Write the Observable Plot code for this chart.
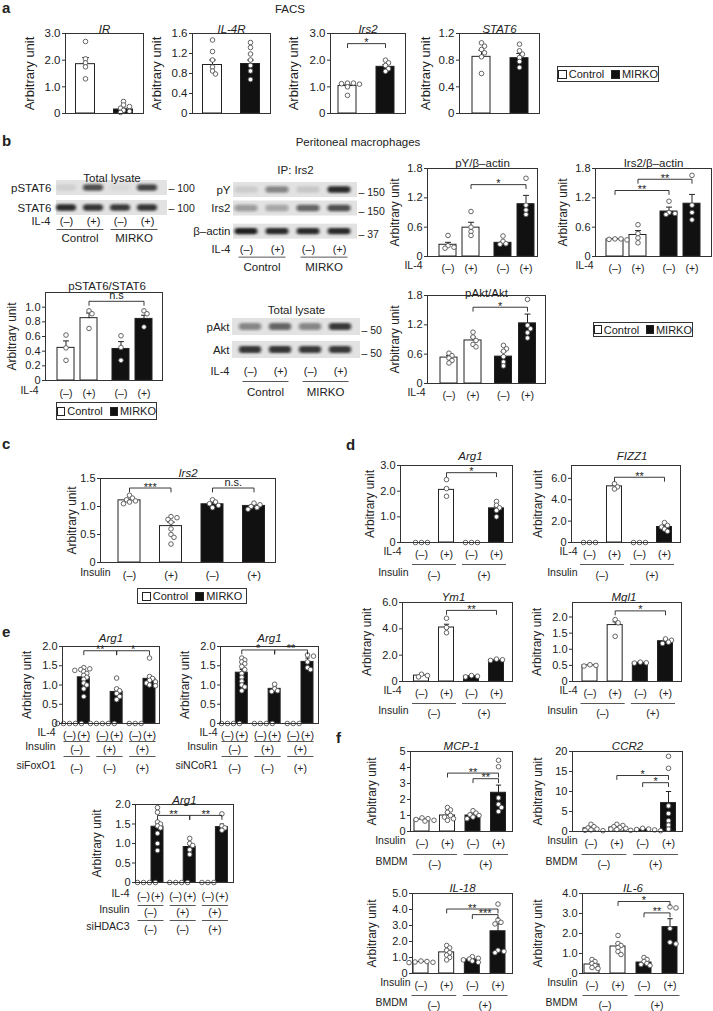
<!DOCTYPE html>
<html><head><meta charset="utf-8">
<script src="https://cdn.jsdelivr.net/npm/d3@7"></script>
<script src="https://cdn.jsdelivr.net/npm/@observablehq/plot@0.6"></script>
<style>
html,body{margin:0;padding:0;background:#fff}
#fig{position:relative;width:713px;height:1011px;overflow:hidden;font-family:"Liberation Sans",Arial,sans-serif;color:#222}
.t{position:absolute;white-space:nowrap;line-height:1}
.leg{position:absolute;border:1px solid #333;box-sizing:border-box;display:flex;align-items:center;justify-content:center;font-size:11px;white-space:nowrap;background:#fff}
.sw{display:inline-block;width:9px;height:9px;border:1px solid #222;box-sizing:border-box;margin-right:2px}
</style></head><body><div id="fig"></div>
<script>
// ================= DATA =================
const genotypes = ["Control", "MIRKO"];
const il4 = ["(–)", "(+)", "(–)", "(+)"];
const il4x3 = ["(–)", "(+)", "(–)", "(+)", "(–)", "(+)"];
const ins = ["(–)", "(+)", "(–)", "(+)"];
const pm = ["(–)", "(+)"];

// a: FACS
const a_IR_mean = [1.85, 0.15], a_IR_err = [2.1, 0.2];
const a_IR_pts = [[2.7, 2.05, 1.9, 1.75, 1.3], [0.45, 0.32, 0.26, 0.2, 0.12, 0.08, 0.04]];
const a_IL4R_mean = [0.97, 0.99], a_IL4R_err = [1.07, 1.07];
const a_IL4R_pts = [[1.47, 1.24, 1.07, 0.93, 0.85, 0.79], [1.42, 1.32, 1.19, 1.07, 0.96, 0.85, 0.68]];
const a_Irs2_mean = [1.03, 1.75], a_Irs2_err = [1.08, 1.83];
const a_Irs2_pts = [[1.14, 1.14, 1.12, 1.1, 1.0, 0.68], [2.0, 1.9, 1.8, 1.68, 1.58]];
const a_STAT6_mean = [0.85, 0.83], a_STAT6_err = [0.95, 0.9];
const a_STAT6_pts = [[1.06, 1.01, 0.96, 0.91, 0.85, 0.6], [1.04, 0.94, 0.89, 0.84, 0.78, 0.69]];

// b: peritoneal macrophages (blots)
const b_pSTAT6_lev = [0.08, 0.7, 0.04, 0.75];
const b_STAT6_lev = [0.9, 0.85, 0.8, 0.85];
const b_pY_lev = [0.1, 0.45, 0.12, 0.9];
const b_Irs2blot_lev = [0.35, 0.3, 0.6, 0.7];
const b_actin_lev = [0.95, 0.9, 0.9, 0.9];
const b_pAkt_lev = [0.45, 0.6, 0.45, 0.8];
const b_Akt_lev = [0.85, 0.85, 0.8, 0.8];
// b: quantification
const b_pSTAT6_mean = [0.445, 0.85, 0.43, 0.84], b_pSTAT6_err = [0.54, 0.92, 0.53, 0.89];
const b_pSTAT6_pts = [[0.62, 0.445, 0.275], [0.95, 0.91, 0.71], [0.61, 0.45, 0.275], [0.95, 0.91, 0.73]];
const b_pY_mean = [0.24, 0.59, 0.28, 1.07], b_pY_err = [0.29, 0.7, 0.31, 1.25];
const b_pY_pts = [[0.43, 0.22, 0.19, 0.17], [0.92, 0.6, 0.51, 0.43], [0.42, 0.31, 0.26, 0.25], [1.6, 1.05, 0.95, 0.86]];
const b_Irs2_mean = [0.35, 0.44, 0.92, 1.08], b_Irs2_err = [0.37, 0.53, 1.01, 1.27];
const b_Irs2_pts = [[0.36, 0.36, 0.35, 0.34], [0.65, 0.47, 0.38, 0.28], [1.13, 0.9, 0.88, 0.86], [1.66, 1.05, 0.9, 0.75]];
const b_pAkt_mean = [0.53, 0.88, 0.55, 1.23], b_pAkt_err = [0.57, 0.95, 0.65, 1.42];
const b_pAkt_pts = [[0.62, 0.57, 0.52, 0.47, 0.42], [1.05, 0.95, 0.88, 0.8, 0.75], [0.78, 0.71, 0.66, 0.55, 0.44, 0.36], [1.72, 1.19, 1.12, 1.04, 0.93]];

// c
const c_Irs2_mean = [1.11, 0.65, 1.04, 1.01], c_Irs2_err = [1.13, 0.72, 1.07, 1.03];
const c_Irs2_pts = [[1.2, 1.15, 1.12, 1.1, 1.08, 1.05], [0.82, 0.8, 0.77, 0.72, 0.6, 0.5, 0.45, 0.33], [1.12, 1.08, 1.05, 1.02, 0.98], [1.06, 1.03, 1.0, 0.98, 0.95]];

// d
const d_Arg1_mean = [0, 2.05, 0, 1.33], d_Arg1_err = [0, 2.12, 0, 1.4];
const d_Arg1_pts = [[0, 0, 0], [2.45, 2.1, 1.8], [0, 0, 0], [1.6, 1.45, 1.35, 1.25, 1.0]];
const d_FIZZ1_mean = [0, 5.25, 0, 1.45], d_FIZZ1_err = [0, 5.35, 0, 1.6];
const d_FIZZ1_pts = [[0, 0, 0], [5.5, 5.2, 5.0], [0, 0, 0], [1.86, 1.6, 1.45, 1.25, 1.05]];
const d_Ym1_mean = [0.45, 4.1, 0.4, 1.6], d_Ym1_err = [0.5, 4.35, 0.45, 1.65];
const d_Ym1_pts = [[0.55, 0.45, 0.35], [4.8, 4.1, 3.7], [0.45, 0.4, 0.35], [1.7, 1.65, 1.6]];
const d_Mgl1_mean = [0.5, 1.75, 0.58, 1.25], d_Mgl1_err = [0.52, 1.85, 0.6, 1.3];
const d_Mgl1_pts = [[0.52, 0.5, 0.48], [1.92, 1.82, 1.4], [0.6, 0.58, 0.57], [1.32, 1.28, 1.22, 1.18]];

// e
const e_FoxO1_mean = [0, 1.2, 0, 0.82, 0, 1.16], e_FoxO1_err = [0, 1.28, 0, 0.88, 0, 1.22];
const e_FoxO1_pts = [[0, 0, 0, 0, 0], [1.45, 1.42, 1.4, 1.38, 1.35, 1.3, 1.25, 1.2, 1.15, 1.05, 1.0, 0.9, 0.7], [0, 0, 0, 0, 0], [1.18, 0.9, 0.85, 0.78, 0.7, 0.62], [0, 0, 0], [1.7, 1.22, 1.17, 1.12, 1.08, 1.05, 1.0, 0.98]];
const e_NCoR1_mean = [0, 1.32, 0, 0.9, 0, 1.6], e_NCoR1_err = [0, 1.4, 0, 0.95, 0, 1.7];
const e_NCoR1_pts = [[0, 0, 0, 0], [1.7, 1.65, 1.6, 1.55, 1.48, 1.4, 1.3, 1.2, 1.1, 1.0, 0.95, 0.85], [0, 0, 0, 0], [1.02, 0.9, 0.85, 0.83], [0, 0, 0], [1.78, 1.75, 1.6, 1.45, 1.4]];
const e_HDAC3_mean = [0, 1.43, 0, 0.91, 0, 1.42], e_HDAC3_err = [0, 1.5, 0, 0.98, 0, 1.5];
const e_HDAC3_pts = [[0, 0, 0, 0], [1.92, 1.8, 1.55, 1.5, 1.45, 1.4, 1.26, 1.0, 0.82], [0, 0, 0, 0], [1.13, 1.0, 0.95, 0.84, 0.72], [0, 0, 0], [1.76, 1.45, 1.4, 1.34]];

// f
const f_MCP1_mean = [0.75, 1.0, 1.0, 2.42], f_MCP1_err = [0.8, 1.15, 1.1, 2.9];
const f_MCP1_pts = [[0.85, 0.8, 0.75, 0.7, 0.65], [1.5, 1.35, 1.2, 1.0, 0.9, 0.8, 0.7], [1.3, 1.15, 1.05, 1.0, 0.9, 0.8], [4.45, 4.05, 2.1, 1.7, 1.5, 1.25]];
const f_CCR2_mean = [0.8, 1.0, 0.5, 7.1], f_CCR2_err = [1.0, 1.2, 0.6, 10.0];
const f_CCR2_pts = [[1.8, 1.2, 0.9, 0.6, 0.4, 0.3, 0.2], [1.8, 1.5, 1.2, 1.0, 0.8, 0.6, 0.5], [0.8, 0.6, 0.5, 0.4, 0.3, 0.2], [18.8, 15.8, 6.4, 4.5, 2.7, 1.6, 0.6]];
const f_IL18_mean = [0.72, 1.32, 0.87, 2.64], f_IL18_err = [0.75, 1.45, 0.95, 3.1];
const f_IL18_pts = [[0.78, 0.75, 0.72, 0.7, 0.68], [1.75, 1.6, 1.45, 1.3, 1.15, 1.0, 0.85], [1.05, 0.95, 0.9, 0.85, 0.78, 0.7], [4.34, 3.35, 3.2, 3.1, 1.45, 1.38, 1.3]];
const f_IL6_mean = [0.45, 1.35, 0.55, 2.32], f_IL6_err = [0.55, 1.5, 0.6, 2.74];
const f_IL6_pts = [[0.7, 0.6, 0.5, 0.4, 0.3, 0.25], [1.9, 1.5, 1.4, 1.3, 1.1, 0.95], [0.8, 0.7, 0.6, 0.5, 0.45, 0.4], [3.33, 3.28, 2.25, 1.56, 1.48]];

// ================= LAYOUT / RENDER =================
const FONT = '"Liberation Sans", Arial, Helvetica, sans-serif';
const INK = "#222";
const WH = "#ffffff", BK = "#111111";
const R = 2.3;
const fig = document.getElementById("fig");
const f1 = d => d === 0 ? "0" : d.toFixed(1);
const f0 = d => String(d);
let uid = 0;

function place(el, left, top) {
  el.style.position = "absolute";
  el.style.left = left + "px";
  el.style.top = top + "px";
  fig.appendChild(el);
}
function label(text, x, y, o = {}) {
  const d = document.createElement("div");
  d.className = "t";
  d.textContent = text;
  d.style.fontSize = (o.size || 11.5) + "px";
  if (o.bold) d.style.fontWeight = "bold";
  const tx = o.anchor === "middle" ? "-50%" : o.anchor === "end" ? "-100%" : "0";
  d.style.transform = `translate(${tx},-50%)`;
  place(d, x, y);
}
function legend(x, y, w, h) {
  const d = document.createElement("div");
  d.className = "leg";
  d.style.width = w + "px"; d.style.height = h + "px";
  d.innerHTML = `<span class="sw" style="background:#fff"></span>${genotypes[0]}<span class="sw" style="background:#111;margin-left:7px"></span>${genotypes[1]}`;
  place(d, x, y);
}
function spread(vals, pxU) {
  const placed = [], out = new Array(vals.length);
  const order = vals.map((v, i) => i).sort((a, b) => vals[b] - vals[a]);
  for (const i of order) {
    const yp = vals[i] * pxU;
    let off = 0;
    for (let k = 0; k < 40; k++) {
      const c = k === 0 ? 0 : (k % 2 ? 1 : -1) * Math.ceil(k / 2) * R * 1.3;
      if (placed.every(q => Math.hypot(q.x - c, q.y - yp) >= R * 1.5)) { off = c; break; }
    }
    placed.push({x: off, y: yp});
    out[i] = off;
  }
  return out;
}
const baseStyle = {background: "transparent", overflow: "visible", maxWidth: "none", fontFamily: FONT, color: INK};

function barChart(o) {
  const [x0, y0, x1, y1] = o.box;
  const n = o.mean.length;
  const sizes = o.groups || [n];
  const gap = o.gap || 0;
  const pos = [];
  let k = 0;
  sizes.forEach((s, gi) => { for (let j = 0; j < s; j++) pos.push(k++ + gi * gap); });
  const pLast = pos[n - 1];
  const step = (o.cN - o.c0) / pLast;
  const xDom = [-(o.c0 - x0) / step, pLast + (x1 - o.cN) / step];
  const half = o.bw / 2 / step;
  const pxU = (y1 - y0) / o.yMax;
  const mL = 80, mR = 40, mT = 30, mB = 70;
  const W = x1 - x0 + mL + mR, H = y1 - y0 + mT + mB;
  const fs = o.fs || {};
  const TICK = fs.tick || 11, LAB = fs.lab || 12, TIT = fs.title || 11.5, ROW = fs.row || 10.5;

  const bars = o.mean.map((m, i) => ({p: pos[i], m, e: o.err[i], f: o.fill[i]})).filter(d => d.m > 0);
  const errs = bars.filter(d => d.e > d.m);
  const dots = [];
  o.pts.forEach((vals, i) => {
    const off = spread(vals, pxU);
    vals.forEach((v, j) => dots.push({x: pos[i] + off[j] / step, v}));
  });
  const drop = 4 / pxU;
  const brLines = [], brStar = [], brText = [];
  (o.br || []).forEach(([a, b, y, t], id) => {
    brLines.push({id, x: pos[a], y: y - drop}, {id, x: pos[a], y}, {id, x: pos[b], y}, {id, x: pos[b], y: y - drop});
    (t.includes("*") ? brStar : brText).push({x: (pos[a] + pos[b]) / 2, y, t});
  });
  const marks = [
    Plot.rect(bars, {x1: d => d.p - half, x2: d => d.p + half, y1: 0, y2: "m", fill: "f", stroke: INK, strokeWidth: 1}),
    Plot.link(errs, {x1: "p", x2: "p", y1: "m", y2: "e", stroke: INK, strokeWidth: 1}),
    Plot.link(errs, {x1: d => d.p - half * 0.35, x2: d => d.p + half * 0.35, y1: "e", y2: "e", stroke: INK, strokeWidth: 1}),
    Plot.dot(dots, {x: "x", y: "v", r: R, fill: "white", stroke: "#555", strokeWidth: 0.9}),
    Plot.frame({stroke: "#333", strokeWidth: 1}),
    Plot.axisY({ticks: o.ticks, tickFormat: o.fmt, tickSize: 3, tickPadding: 2, fontSize: TICK, label: null, stroke: "#333"}),
    Plot.text(["Arbitrary unit"], {x: xDom[0] + o.ldx / step, y: o.yMax / 2, rotate: -90, fontSize: LAB, text: d => d}),
    Plot.line(brLines, {x: "x", y: "y", z: "id", stroke: INK, strokeWidth: 0.9}),
    Plot.text(brStar, {x: "x", y: "y", text: "t", dy: -1, fontSize: 11}),
    Plot.text(brText, {x: "x", y: "y", text: "t", dy: -6, fontSize: 11}),
    Plot.text([o.title], {frameAnchor: "top", dy: o.tdy ?? -9, dx: o.tdx || 0, fontSize: TIT, fontStyle: o.it ? "italic" : "normal", text: d => d})
  ];
  (o.rows || []).forEach(r => {
    if (r.type === "bar") {
      marks.push(Plot.text(r.labels.map((t, i) => ({x: pos[i], t})), {x: "x", y: 0, dy: r.dy, text: "t", fontSize: r.fsz || ROW}));
    } else {
      const ext = (r.ext || 0) / step;
      const g = r.members.map((mm, gi) => ({
        x1: pos[mm[0]] - half - ext, x2: pos[mm[mm.length - 1]] + half + ext,
        xc: (pos[mm[0]] + pos[mm[mm.length - 1]]) / 2, t: r.labels[gi]
      }));
      marks.push(Plot.link(g, {x1: "x1", x2: "x2", y1: 0, y2: 0, dy: r.line, stroke: "#444", strokeWidth: 0.9}));
      marks.push(Plot.text(g, {x: "xc", y: 0, dy: r.dy, text: "t", fontSize: r.fsz || ROW}));
    }
    if (r.name) marks.push(Plot.text([r.name], {frameAnchor: "bottom-left", dx: r.nx - x0, dy: r.dy, textAnchor: "end", fontSize: ROW, text: d => d}));
  });
  const svg = Plot.plot({
    width: W, height: H, marginLeft: mL, marginRight: mR, marginTop: mT, marginBottom: mB,
    x: {domain: xDom, axis: null}, y: {domain: [0, o.yMax], axis: null},
    color: {type: "identity"}, style: baseStyle, marks
  });
  place(svg, x0 - mL, y0 - mT);
}

function blot(o) {
  const nL = o.lanes.length;
  const [sx0, sx1] = o.sx;
  const xDom = [-(o.c0 - sx0) / o.step, (nL - 1) + (sx1 - o.c0 - (nL - 1) * o.step) / o.step];
  const hh = o.h / 2 / o.rowStep;
  const last = o.rowPos[o.rowPos.length - 1];
  const yDom = [-(last + hh), hh];
  const top = o.y0, bot = o.y0 + last * o.rowStep + o.h;
  const mL = 70, mR = 45, mT = 30, mB = 50;
  const W = sx1 - sx0 + mL + mR, H = bot - top + mT + mB;
  const strips = o.rows.map((r, i) => ({r, p: -o.rowPos[i], mk: o.mk[i]}));
  const bands = [];
  o.rows.forEach((r, i) => o.lev[i].forEach((v, j) => bands.push({p: -o.rowPos[i], j, v})));
  const ext = o.ext / o.step;
  const groups = [[0, 1], [2, 3]].map((mm, gi) => ({x1: mm[0] - ext, x2: mm[1] + ext, xc: (mm[0] + mm[1]) / 2, t: genotypes[gi]}));
  const marks = [
    Plot.rect(strips, {x1: xDom[0], x2: xDom[1], y1: d => d.p - hh, y2: d => d.p + hh, fill: "#e2e2e2"}),
    Plot.rect(bands, {x1: d => d.j - 0.37, x2: d => d.j + 0.37, y1: d => d.p - hh * 0.42, y2: d => d.p + hh * 0.42, fill: "#141414", fillOpacity: "v", rx: 3}),
    Plot.text(strips, {x: xDom[0], y: "p", text: "r", textAnchor: "end", dx: o.ldx, fontSize: 11.5}),
    Plot.text(strips, {x: xDom[1], y: "p", text: d => "– " + d.mk, textAnchor: "start", dx: 1, dy: o.mdy, fontSize: 10.5}),
    Plot.text(o.lanes, {x: (d, i) => i, y: yDom[0], dy: o.dyL, text: d => d, fontSize: 11}),
    Plot.link(groups, {x1: "x1", x2: "x2", y1: yDom[0], y2: yDom[0], dy: o.dyU, stroke: "#444", strokeWidth: 0.9}),
    Plot.text(groups, {x: "xc", y: yDom[0], dy: o.dyG, text: "t", fontSize: 11.5}),
    Plot.text([o.name], {x: xDom[0], y: yDom[0], dx: o.nameX - sx0, dy: o.dyL, textAnchor: "end", fontSize: 11, text: d => d}),
    Plot.text([o.title], {frameAnchor: "top", dy: o.tdy, fontSize: 11.5, text: d => d})
  ];
  const svg = Plot.plot({
    width: W, height: H, marginLeft: mL, marginRight: mR, marginTop: mT, marginBottom: mB,
    x: {domain: xDom, axis: null}, y: {domain: yDom, axis: null},
    opacity: {domain: [0, 1], range: [0, 1]},
    style: baseStyle, marks
  });
  const id = "blur" + (uid++);
  const defs = document.createElementNS("http://www.w3.org/2000/svg", "defs");
  defs.innerHTML = `<filter id="${id}" x="-30%" y="-80%" width="160%" height="260%"><feGaussianBlur stdDeviation="1.8 1.1"/></filter>`;
  svg.insertBefore(defs, svg.firstChild);
  const rg = svg.querySelectorAll('g[aria-label="rect"]');
  if (rg[1]) rg[1].setAttribute("filter", `url(#${id})`);
  place(svg, sx0 - mL, top - mT);
}

// ---------- panel letters & headings ----------
label("a", 2, 7, {bold: true, size: 15});
label("FACS", 290, 10, {anchor: "middle", size: 11.5});
label("b", 2, 140, {bold: true, size: 15});
label("Peritoneal macrophages", 358, 143, {anchor: "middle", size: 11.5});
label("c", 2, 443, {bold: true, size: 15});
label("d", 346, 444, {bold: true, size: 15});
label("e", 2, 631, {bold: true, size: 15});
label("f", 336, 737, {bold: true, size: 15});

// ---------- a ----------
const FA = {tick: 11.5, lab: 13, title: 11.5};
const g2 = [WH, BK];
barChart({box: [65, 33, 143, 113], c0: 85, cN: 123, bw: 19, yMax: 3, ticks: [0, 1, 2, 3], fmt: f1, mean: a_IR_mean, err: a_IR_err, pts: a_IR_pts, fill: g2, title: "IR", it: true, tdy: -9, ldx: -36, fs: FA});
barChart({box: [192, 33, 270, 113], c0: 212, cN: 250, bw: 19, yMax: 1.6, ticks: [0, 0.4, 0.8, 1.2, 1.6], fmt: f1, mean: a_IL4R_mean, err: a_IL4R_err, pts: a_IL4R_pts, fill: g2, title: "IL-4R", it: true, tdy: -9, ldx: -36, fs: FA});
barChart({box: [330, 33, 405, 113], c0: 347, cN: 385, bw: 18, yMax: 3, ticks: [0, 1, 2, 3], fmt: f1, mean: a_Irs2_mean, err: a_Irs2_err, pts: a_Irs2_pts, fill: g2, title: "Irs2", it: true, tdy: -9, ldx: -37, fs: FA, br: [[0, 1, 2.62, "*"]]});
barChart({box: [459, 33, 539, 113], c0: 481, cN: 519, bw: 18, yMax: 1.2, ticks: [0, 0.4, 0.8, 1.2], fmt: f1, mean: a_STAT6_mean, err: a_STAT6_err, pts: a_STAT6_pts, fill: g2, title: "STAT6", it: true, tdy: -9, ldx: -34, fs: FA});
legend(557, 66, 102, 16);

// ---------- b ----------
blot({sx: [56, 167], c0: 66, step: 27, lanes: il4, rows: ["pSTAT6", "STAT6"], rowPos: [0, 1], rowStep: 20, h: 15, y0: 180,
  mk: ["100", "100"], mdy: 1, lev: [b_pSTAT6_lev, b_STAT6_lev], ldx: -5, dyL: 6, dyU: 14, dyG: 23, ext: 10, name: "IL-4", nameX: 50, title: "Total lysate", tdy: -7});
blot({sx: [233, 357], c0: 246, step: 31, lanes: il4, rows: ["pY", "Irs2", "β–actin"], rowPos: [0, 1, 2.25], rowStep: 18.5, h: 15, y0: 182,
  mk: ["150", "150", "37"], mdy: 3, lev: [b_pY_lev, b_Irs2blot_lev, b_actin_lev], ldx: -3, dyL: 10, dyU: 18, dyG: 28, ext: 8, name: "IL-4", nameX: 230, title: "IP: Irs2", tdy: -17});
blot({sx: [232, 360], c0: 250, step: 30, lanes: il4, rows: ["pAkt", "Akt"], rowPos: [0, 1], rowStep: 23, h: 17, y0: 318,
  mk: ["50", "50"], mdy: 4, lev: [b_pAkt_lev, b_Akt_lev], ldx: -3, dyL: 13, dyU: 23, dyG: 34, ext: 8, name: "IL-4", nameX: 229, title: "Total lysate", tdy: -13});
const g4 = [WH, WH, BK, BK];
barChart({box: [45, 292, 162, 380], c0: 65.5, cN: 143.5, groups: [2, 2], gap: 0.39, bw: 17, yMax: 1.2, ticks: [0, 0.2, 0.4, 0.6, 0.8, 1.0], fmt: f1,
  mean: b_pSTAT6_mean, err: b_pSTAT6_err, pts: b_pSTAT6_pts, fill: g4, title: "pSTAT6/STAT6", tdy: -11, tdx: 3, ldx: -33, br: [[1, 3, 1.08, "n.s"]],
  rows: [{type: "bar", dy: 13, labels: il4, name: "IL-4", nx: 38}]});
barChart({box: [427, 168, 537, 256], c0: 447.5, cN: 525.5, groups: [2, 2], gap: 0.39, bw: 17, yMax: 1.8, ticks: [0, 0.6, 1.2, 1.8], fmt: f1,
  mean: b_pY_mean, err: b_pY_err, pts: b_pY_pts, fill: g4, title: "pY/β–actin", tdy: -10, ldx: -32, br: [[1, 3, 1.47, "*"]],
  rows: [{type: "bar", dy: 12, labels: il4, name: "IL-4", nx: 422}]});
barChart({box: [595, 168, 711, 256], c0: 614.5, cN: 691.5, groups: [2, 2], gap: 0.35, bw: 17, yMax: 1.8, ticks: [0, 0.6, 1.2, 1.8], fmt: f1,
  mean: b_Irs2_mean, err: b_Irs2_err, pts: b_Irs2_pts, fill: g4, title: "Irs2/β–actin", tdy: -10, ldx: -32, br: [[0, 2, 1.35, "**"], [1, 3, 1.58, "**"]],
  rows: [{type: "bar", dy: 12, labels: il4, name: "IL-4", nx: 593}]});
barChart({box: [427, 295, 545, 383], c0: 448.5, cN: 527, groups: [2, 2], gap: 0.27, bw: 17, yMax: 1.8, ticks: [0, 0.6, 1.2, 1.8], fmt: f1,
  mean: b_pAkt_mean, err: b_pAkt_err, pts: b_pAkt_pts, fill: g4, title: "pAkt/Akt", tdy: -7, ldx: -32, br: [[1, 3, 1.56, "*"]],
  rows: [{type: "bar", dy: 12, labels: il4, name: "IL-4", nx: 425}]});
legend(56, 402, 101, 18);
legend(593, 322, 100, 15);

// ---------- c ----------
barChart({box: [100, 478, 275, 562], c0: 129, cN: 253.5, bw: 22, yMax: 1.5, ticks: [0, 0.5, 1.0, 1.5], fmt: f1,
  mean: c_Irs2_mean, err: c_Irs2_err, pts: c_Irs2_pts, fill: g4, title: "Irs2", it: true, tdy: -10, ldx: -28,
  br: [[0, 1, 1.33, "***"], [2, 3, 1.33, "n.s."]], rows: [{type: "bar", dy: 13, labels: ins, name: "Insulin", nx: 110, fsz: 11}]});
legend(137, 588, 110, 16);

// ---------- d ----------
function dRows(a, b, c, nx1, nx2) {
  return [{type: "bar", dy: a, labels: il4, name: "IL-4", nx: nx1},
          {type: "group", line: b, dy: c, members: [[0, 1], [2, 3]], labels: pm, name: "Insulin", nx: nx2, ext: 2}];
}
barChart({box: [400, 465, 512, 542], c0: 421, cN: 496, bw: 15, yMax: 3, ticks: [0, 1, 2, 3], fmt: f1, mean: d_Arg1_mean, err: d_Arg1_err, pts: d_Arg1_pts,
  fill: g4, title: "Arg1", it: true, tdy: -14, tdx: 14, ldx: -30, br: [[1, 3, 2.72, "*"]], rows: dRows(12, 22, 33, 401, 408)});
barChart({box: [571, 465, 680, 542], c0: 589, cN: 664, bw: 15, yMax: 7.2, ticks: [0, 2, 4, 6], fmt: f1, mean: d_FIZZ1_mean, err: d_FIZZ1_err, pts: d_FIZZ1_pts,
  fill: g4, title: "FIZZ1", it: true, tdy: -14, tdx: 6, ldx: -33, br: [[1, 3, 6.1, "**"]], rows: dRows(12, 22, 33, 577, 577)});
barChart({box: [402, 602, 512, 681], c0: 421, cN: 496, bw: 15, yMax: 6, ticks: [0, 2, 4, 6], fmt: f1, mean: d_Ym1_mean, err: d_Ym1_err, pts: d_Ym1_pts,
  fill: g4, title: "Ym1", it: true, tdy: -10, tdx: -4, ldx: -35, br: [[1, 3, 5.4, "**"]], rows: dRows(12, 22, 32, 401, 408)});
barChart({box: [572, 602, 681, 681], c0: 589.5, cN: 665, bw: 15, yMax: 2.45, ticks: [0, 0.5, 1, 1.5, 2], fmt: f1, mean: d_Mgl1_mean, err: d_Mgl1_err, pts: d_Mgl1_pts,
  fill: g4, title: "Mgl1", it: true, tdy: -10, tdx: -3, ldx: -35, br: [[1, 3, 2.19, "*"]], rows: dRows(12, 22, 32, 577, 577)});

// ---------- e ----------
const g6 = [BK, BK, BK, BK, BK, BK];
function eRows(d, si, siLab, nx) {
  const mem = [[0, 1], [2, 3], [4, 5]];
  return [{type: "bar", dy: d[0], labels: il4x3, name: "IL-4", nx, fsz: 10.5},
          {type: "group", line: d[1], dy: d[2], members: mem, labels: ["(–)", "(+)", "(+)"], name: "Insulin", nx, fsz: 10.5},
          {type: "group", line: d[3], dy: d[4], members: mem, labels: siLab, name: si, nx, fsz: 10.5}];
}
barChart({box: [62, 646, 159, 723], c0: 69, cN: 149, groups: [2, 2, 2], gap: 0.3, bw: 12, yMax: 2, ticks: [0, 0.5, 1, 1.5, 2], fmt: f1,
  mean: e_FoxO1_mean, err: e_FoxO1_err, pts: e_FoxO1_pts, fill: g6, title: "Arg1", it: true, tdy: -13, ldx: -35,
  br: [[1, 3, 1.89, "**"], [3, 5, 1.89, "*"]], rows: eRows([12, 18, 26, 33, 45], "siFoxO1", ["(–)", "(–)", "(+)"], 55)});
barChart({box: [220, 646, 318, 723], c0: 227, cN: 307, groups: [2, 2, 2], gap: 0.3, bw: 12, yMax: 2, ticks: [0, 0.5, 1, 1.5, 2], fmt: f1,
  mean: e_NCoR1_mean, err: e_NCoR1_err, pts: e_NCoR1_pts, fill: g6, title: "Arg1", it: true, tdy: -13, ldx: -35,
  br: [[1, 3, 1.91, "*"], [3, 5, 1.91, "**"]], rows: eRows([12, 18, 26, 33, 45], "siNCoR1", ["(–)", "(–)", "(+)"], 217)});
barChart({box: [135, 804, 233, 882], c0: 143, cN: 221.4, groups: [2, 2, 2], gap: 0.3, bw: 12, yMax: 2, ticks: [0, 0.5, 1, 1.5, 2], fmt: f1,
  mean: e_HDAC3_mean, err: e_HDAC3_err, pts: e_HDAC3_pts, fill: g6, title: "Arg1", it: true, tdy: -9, ldx: -38,
  br: [[1, 3, 1.72, "**"], [3, 5, 1.72, "**"]], rows: eRows([14, 23, 30, 38, 47], "siHDAC3", ["(–)", "(–)", "(+)"], 129)});

// ---------- f ----------
function fRows(a, b, c, nx1, nx2) {
  return [{type: "bar", dy: a, labels: ins, name: "Insulin", nx: nx1},
          {type: "group", line: b, dy: c, members: [[0, 1], [2, 3]], labels: pm, name: "BMDM", nx: nx2, ext: 2}];
}
barChart({box: [410, 751, 512, 831], c0: 421.5, cN: 498, bw: 15, yMax: 5, ticks: [0, 1, 2, 3, 4, 5], fmt: f0, mean: f_MCP1_mean, err: f_MCP1_err, pts: f_MCP1_pts,
  fill: g4, title: "MCP-1", it: true, tdy: -10, ldx: -38, br: [[1, 3, 3.65, "**"], [2, 3, 3.3, "**"]], rows: fRows(12, 23, 33, 405, 407)});
barChart({box: [572, 751, 682, 831], c0: 590.5, cN: 668, bw: 15, yMax: 20, ticks: [0, 5, 10, 15, 20], fmt: f0, mean: f_CCR2_mean, err: f_CCR2_err, pts: f_CCR2_pts,
  fill: g4, title: "CCR2", it: true, tdy: -10, ldx: -34, br: [[1, 3, 14, "*"], [2, 3, 12.2, "*"]], rows: fRows(12, 23, 33, 577, 577)});
barChart({box: [412, 893, 512, 973], c0: 420.5, cN: 497.5, bw: 15, yMax: 5, ticks: [0, 1, 2, 3, 4, 5], fmt: f1, mean: f_IL18_mean, err: f_IL18_err, pts: f_IL18_pts,
  fill: g4, title: "IL-18", it: true, tdy: -10, ldx: -40, br: [[1, 3, 4.03, "**"], [2, 3, 3.68, "***"]], rows: fRows(12, 22, 32, 410, 407)});
barChart({box: [582, 893, 683, 973], c0: 591.5, cN: 669.5, bw: 15, yMax: 4, ticks: [0, 1, 2, 3, 4], fmt: f1, mean: f_IL6_mean, err: f_IL6_err, pts: f_IL6_pts,
  fill: g4, title: "IL-6", it: true, tdy: -10, ldx: -44, br: [[1, 3, 3.6, "*"], [2, 3, 3.03, "**"]], rows: fRows(12, 22, 32, 577, 577)});
</script></body></html>
